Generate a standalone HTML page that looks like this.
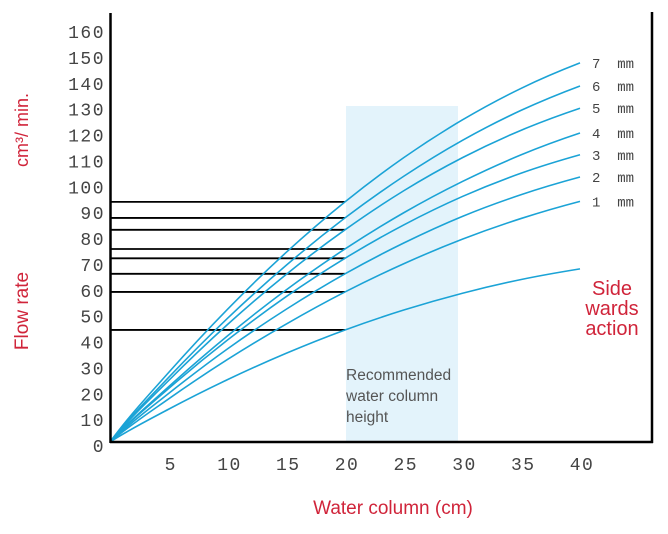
<!DOCTYPE html>
<html><head><meta charset="utf-8"><style>
body{margin:0;background:#fff}
svg{display:block}
.yl{font-family:"Liberation Mono",monospace;font-size:18px;fill:#444;letter-spacing:1.5px}
.xl{font-family:"Liberation Mono",monospace;font-size:18px;fill:#444;letter-spacing:1.5px}
.lg{font-family:"Liberation Mono",monospace;font-size:14px;fill:#444}
.red{font-family:"Liberation Sans",sans-serif;fill:#d0243a}
.rec{font-family:"Liberation Sans",sans-serif;font-size:15.5px;fill:#555}
</style></head><body>
<svg id="chart" width="668" height="534" viewBox="0 0 668 534" xmlns="http://www.w3.org/2000/svg">
<rect x="346" y="106" width="112" height="336" fill="#e3f3fb"/>
<g id="hlines"></g>
<g id="curves"></g>
<g id="yticks"></g>
<g id="xticks"></g>
<g id="legend"></g>
<line x1="110.5" y1="13" x2="110.5" y2="443" stroke="#000" stroke-width="2.5"/>
<line x1="110" y1="442" x2="653" y2="442" stroke="#000" stroke-width="2.5"/>
<line x1="652" y1="12" x2="652" y2="443" stroke="#000" stroke-width="2.5"/>
<text class="rec" x="346" y="380">Recommended</text>
<text class="rec" x="346" y="401">water column</text>
<text class="rec" x="346" y="422">height</text>
<text class="red" font-size="18" transform="translate(28,130) rotate(-90)" text-anchor="middle">cm³/ min.</text>
<text class="red" font-size="19" transform="translate(28,311) rotate(-90)" text-anchor="middle">Flow rate</text>
<text class="red" font-size="19" x="393" y="514" text-anchor="middle">Water column (cm)</text>
<text class="red" font-size="20" text-anchor="middle"><tspan x="612" y="295">Side</tspan><tspan x="612" y="315">wards</tspan><tspan x="612" y="335">action</tspan></text>
</svg>
<script>
const xValues=[0,5,10,15,20,25,30,35,40];
const seriesNames=["7 mm","6 mm","5 mm","4 mm","3 mm","2 mm","1 mm","Side wards action"];
const s7=[0,26.9,51.3,73.3,92.8,109.9,124.5,136.7,146.5];
const s6=[0,25.0,47.8,68.3,86.6,102.7,116.6,128.2,137.6];
const s5=[0,23.8,45.4,64.8,82.0,97.1,109.9,120.5,129.0];
const s4=[0,21.4,41.0,58.8,74.6,88.6,100.7,111.0,119.4];
const s3=[0,20.7,39.4,56.2,71.0,83.9,94.9,103.9,111.0];
const s2=[0,18.8,36.0,51.3,65.0,76.9,87.2,95.6,102.4];
const s1=[0,16.7,31.9,45.6,58.0,68.9,78.4,86.4,93.0];
const sSide=[0,12.7,24.1,34.3,43.3,51.0,57.5,62.8,66.9];
const yTicks=[0,10,20,30,40,50,60,70,80,90,100,110,120,130,140,150,160];
const xTicks=[5,10,15,20,25,30,35,40];
const refIndex=4;
const NS="http://www.w3.org/2000/svg";
const X=v=>110+v*11.75;
const Y=v=>442-v*2.5875;
const all=[s7,s6,s5,s4,s3,s2,s1,sSide];
const cur=document.getElementById('curves'),hl=document.getElementById('hlines');
all.forEach((s,i)=>{
  const p=document.createElementNS(NS,'path');
  let d='M'+X(xValues[0])+','+Y(s[0]);
  for(let k=1;k<s.length;k++){
    const x0=X(xValues[k-1]),x1=X(xValues[k]);
    const m0=k>1?(s[k]-s[k-2])/(xValues[k]-xValues[k-2]):(s[1]-s[0])/(xValues[1]-xValues[0])*1.15;
    const m1=k<s.length-1?(s[k+1]-s[k-1])/(xValues[k+1]-xValues[k-1]):(s[k]-s[k-1])/(xValues[k]-xValues[k-1])*0.9;
    const h=(xValues[k]-xValues[k-1])/3;
    d+=' C'+(x0+h*11.75)+','+Y(s[k-1]+m0*h)+' '+(x1-h*11.75)+','+Y(s[k]-m1*h)+' '+x1+','+Y(s[k]);
  }
  p.setAttribute('d',d);p.setAttribute('fill','none');p.setAttribute('stroke','#1ba3d6');p.setAttribute('stroke-width','1.6');
  
  
  cur.appendChild(p);
  const l=document.createElementNS(NS,'line');
  l.setAttribute('x1',110);l.setAttribute('x2',X(xValues[refIndex]));
  l.setAttribute('y1',Y(s[refIndex]));l.setAttribute('y2',Y(s[refIndex]));
  l.setAttribute('stroke','#000');l.setAttribute('stroke-width','1.8');
  
  
  hl.appendChild(l);
  if(i<7){
    const t=document.createElementNS(NS,'text');
    t.setAttribute('class','lg');t.setAttribute('x',592);t.setAttribute('y',Y(s[s.length-1])+5);
    t.textContent=seriesNames[i].replace(' ','  ');
    t.setAttribute('xml:space','preserve');t.style.whiteSpace='pre';
    
    
    document.getElementById('legend').appendChild(t);
  }
});
const yt=document.getElementById('yticks');
yTicks.forEach(v=>{
  const t=document.createElementNS(NS,'text');
  t.setAttribute('class','yl');t.setAttribute('x',105);t.setAttribute('y',Y(v)+10);t.setAttribute('text-anchor','end');
  t.textContent=v;
  
  
  yt.appendChild(t);
});
const xt=document.getElementById('xticks');
xTicks.forEach(v=>{
  const t=document.createElementNS(NS,'text');
  t.setAttribute('class','xl');t.setAttribute('x',X(v)+2);t.setAttribute('y',470);t.setAttribute('text-anchor','middle');
  t.textContent=v;
  
  
  xt.appendChild(t);
});
</script>
</body></html>
